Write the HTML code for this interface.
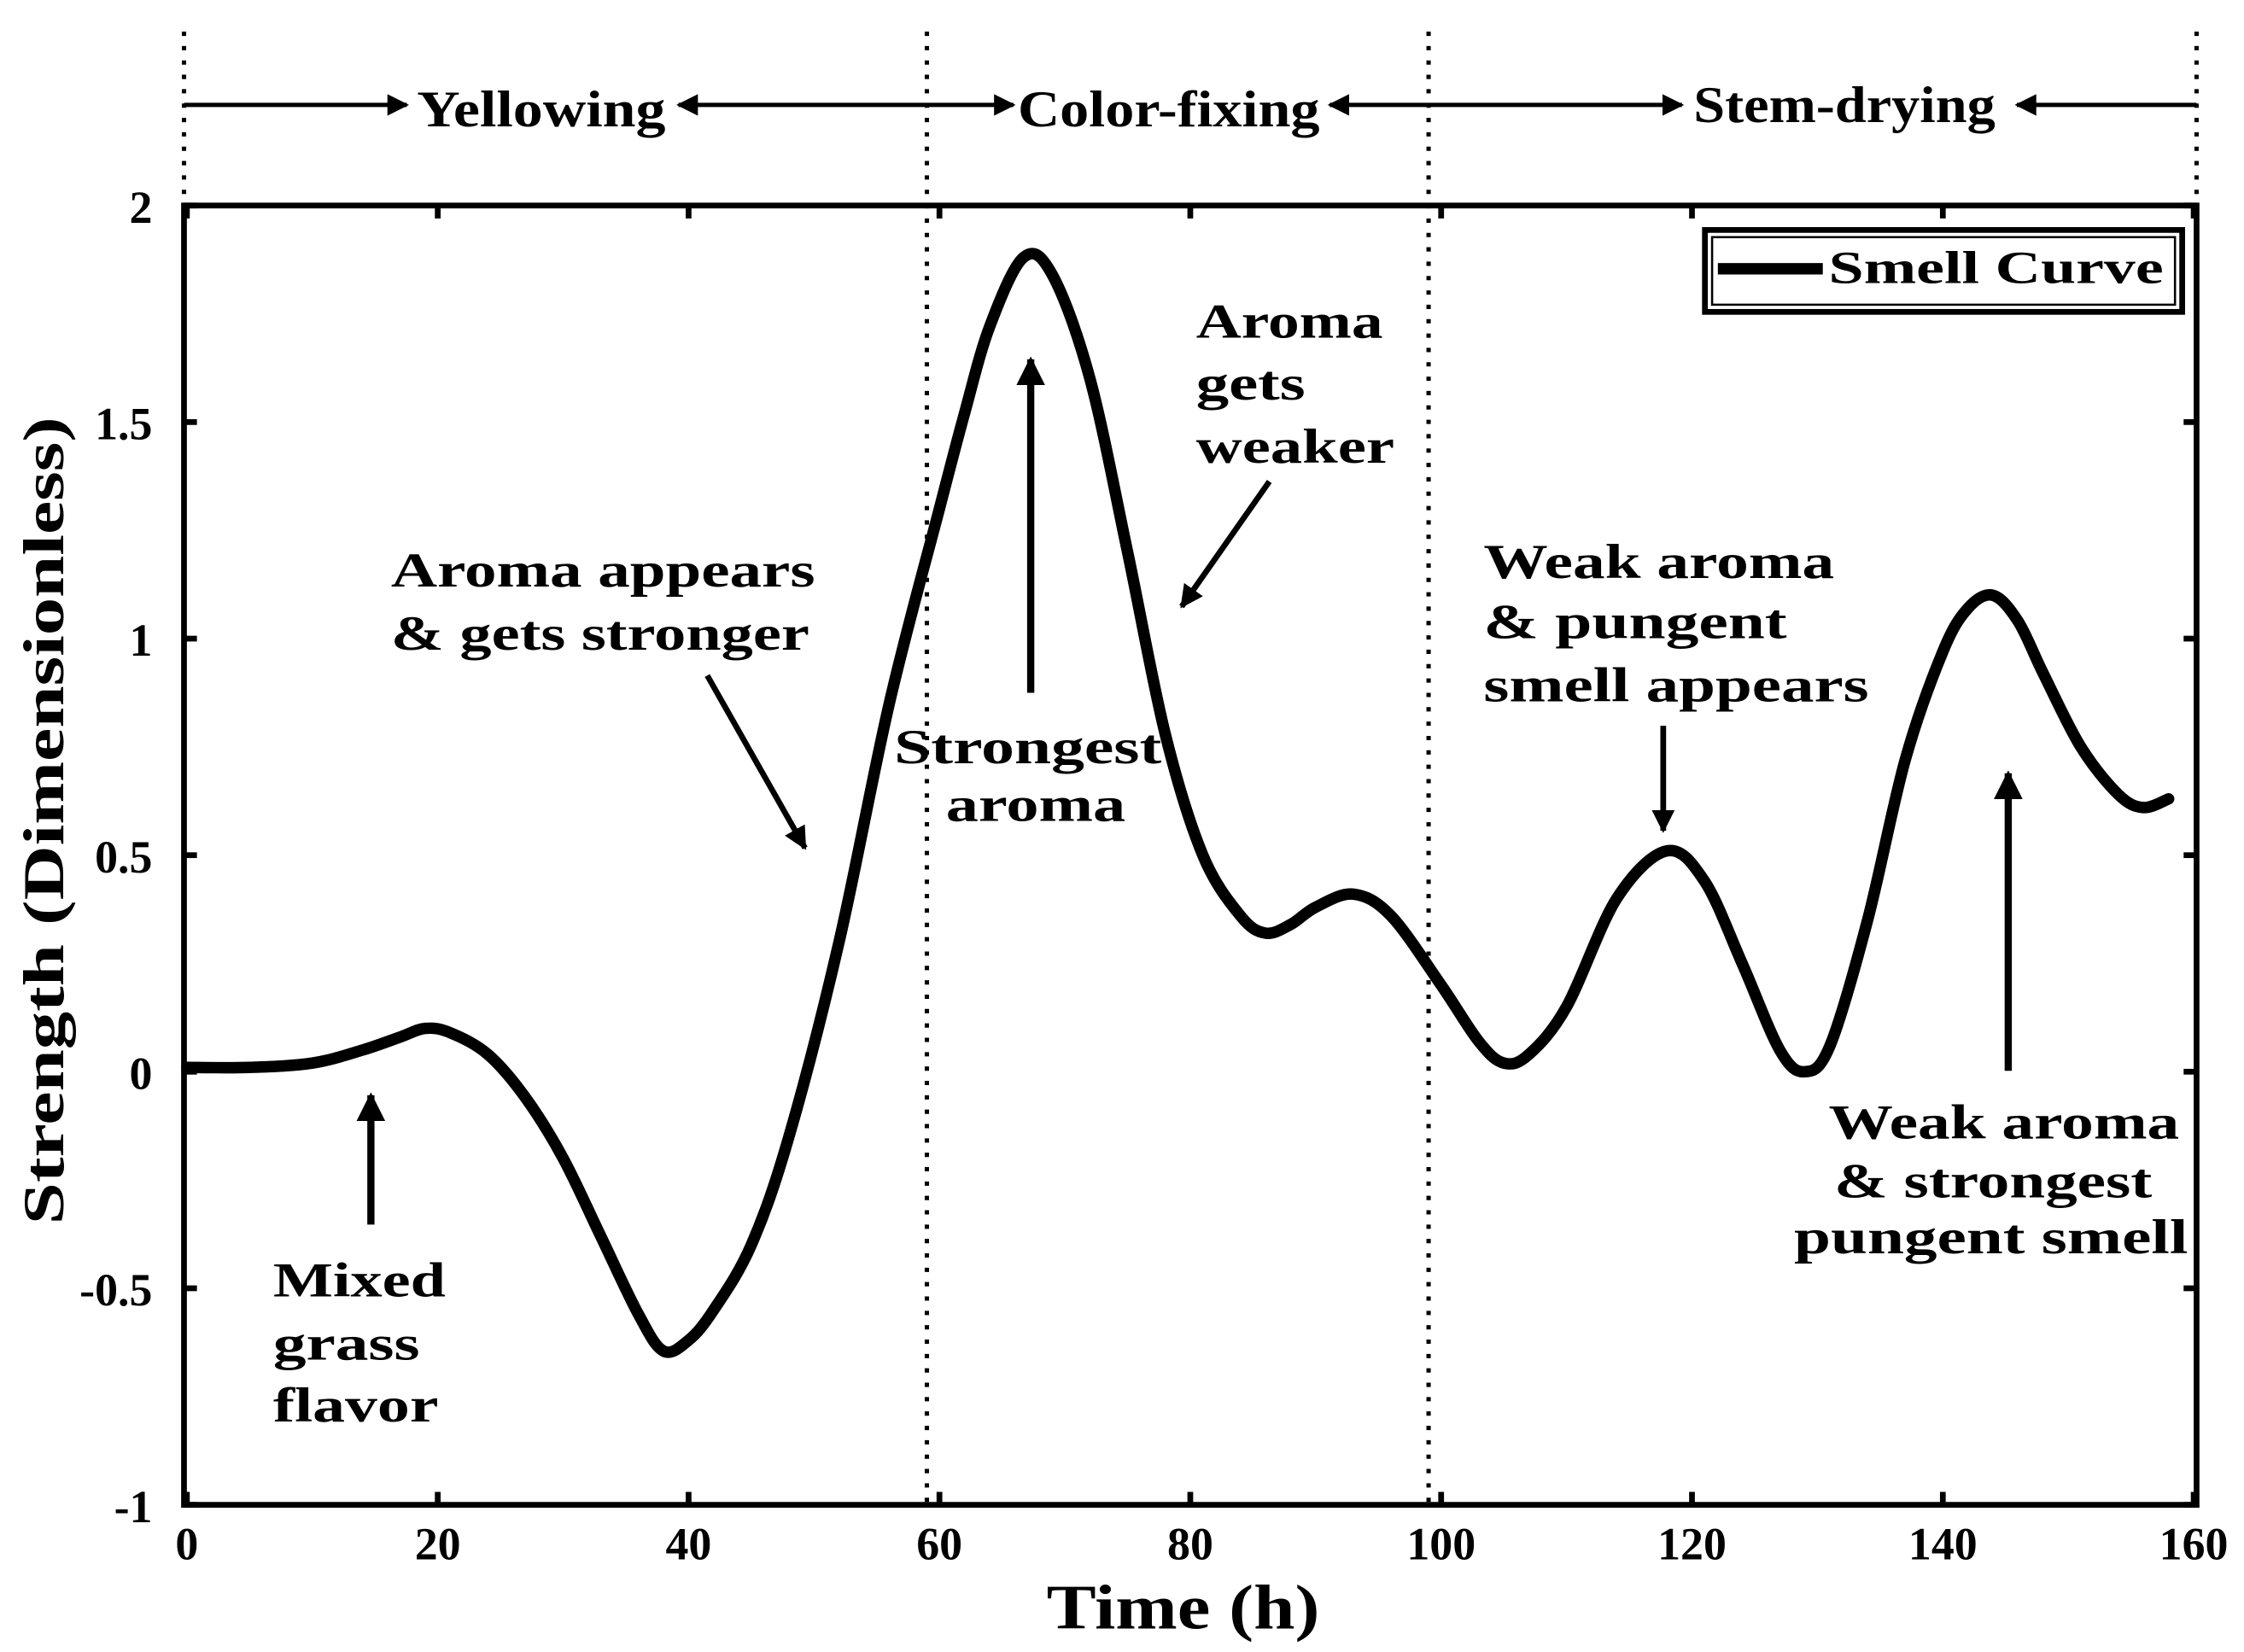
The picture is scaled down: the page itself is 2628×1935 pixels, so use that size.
<!DOCTYPE html>
<html><head><meta charset="utf-8"><style>
html,body{margin:0;padding:0;background:#fff;}
svg{display:block;}
text{font-family:"Liberation Serif",serif;font-weight:bold;fill:#000;}
</style></head><body>
<svg id="chart" width="2628" height="1935" viewBox="0 0 1561 1149.4" preserveAspectRatio="none" xmlns="http://www.w3.org/2000/svg">
<defs>
<marker id="ah" viewBox="0 0 10 10" refX="9" refY="5" markerWidth="4" markerHeight="4" orient="auto-start-reverse"><path d="M0,0 L10,5 L0,10 z" fill="#000"/></marker>
<marker id="ah2" viewBox="0 0 10 10" refX="9" refY="5" markerWidth="6" markerHeight="5" orient="auto-start-reverse"><path d="M0,0 L10,5 L0,10 z" fill="#000"/></marker>
</defs>
<g id="axes"></g>
<g id="series"></g>
<g>
 <line x1="128" y1="73" x2="283" y2="73" stroke="#000" stroke-width="3" marker-end="url(#ah2)"/>
 <text x="290" y="88" font-size="36" textLength="173" lengthAdjust="spacingAndGlyphs">Yellowing</text>
 <line x1="472" y1="73" x2="705" y2="73" stroke="#000" stroke-width="3" marker-start="url(#ah2)" marker-end="url(#ah2)"/>
 <text x="708" y="88" font-size="36" textLength="210" lengthAdjust="spacingAndGlyphs">Color-fixing</text>
 <line x1="925" y1="73" x2="1170" y2="73" stroke="#000" stroke-width="3" marker-start="url(#ah2)" marker-end="url(#ah2)"/>
 <text x="1178" y="85" font-size="36" textLength="210" lengthAdjust="spacingAndGlyphs">Stem-drying</text>
 <line x1="1403" y1="73" x2="1528" y2="73" stroke="#000" stroke-width="3" marker-start="url(#ah2)"/>
</g>
<g>
 <rect x="1186" y="160" width="332" height="57" fill="#fff" stroke="#000" stroke-width="4"/>
 <rect x="1191" y="165" width="322" height="47" fill="none" stroke="#000" stroke-width="1.5"/>
 <line x1="1195" y1="187" x2="1268" y2="187" stroke="#000" stroke-width="8"/>
 <text x="1272" y="197" font-size="32" textLength="233" lengthAdjust="spacingAndGlyphs">Smell Curve</text>
</g>
<g font-size="34">
 <text x="190" y="902" textLength="120" lengthAdjust="spacingAndGlyphs">Mixed</text>
 <text x="190" y="946" textLength="102" lengthAdjust="spacingAndGlyphs">grass</text>
 <text x="190" y="989" textLength="115" lengthAdjust="spacingAndGlyphs">flavor</text>
 <line x1="258" y1="852" x2="258" y2="762" stroke="#000" stroke-width="5" marker-end="url(#ah)"/>
 <text x="272" y="408" textLength="295" lengthAdjust="spacingAndGlyphs">Aroma appears</text>
 <text x="272" y="452" textLength="291" lengthAdjust="spacingAndGlyphs">&amp; gets stronger</text>
 <line x1="492" y1="470" x2="560" y2="590" stroke="#000" stroke-width="4" marker-end="url(#ah)"/>
 <text x="622" y="531" textLength="186" lengthAdjust="spacingAndGlyphs">Strongest</text>
 <text x="658" y="571" textLength="125" lengthAdjust="spacingAndGlyphs">aroma</text>
 <line x1="717" y1="482" x2="717" y2="250" stroke="#000" stroke-width="5" marker-end="url(#ah)"/>
 <text x="832" y="235" textLength="130" lengthAdjust="spacingAndGlyphs">Aroma</text>
 <text x="832" y="278" textLength="76" lengthAdjust="spacingAndGlyphs">gets</text>
 <text x="832" y="322" textLength="138" lengthAdjust="spacingAndGlyphs">weaker</text>
 <line x1="883" y1="335" x2="822" y2="422" stroke="#000" stroke-width="4" marker-end="url(#ah)"/>
 <text x="1032" y="402" textLength="244" lengthAdjust="spacingAndGlyphs">Weak aroma</text>
 <text x="1032" y="444" textLength="211" lengthAdjust="spacingAndGlyphs">&amp;  pungent</text>
 <text x="1032" y="488" textLength="268" lengthAdjust="spacingAndGlyphs">smell appears</text>
 <line x1="1157" y1="505" x2="1157" y2="578" stroke="#000" stroke-width="4" marker-end="url(#ah)"/>
 <text x="1272" y="792" textLength="244" lengthAdjust="spacingAndGlyphs">Weak aroma</text>
 <text x="1276" y="833" textLength="221" lengthAdjust="spacingAndGlyphs">&amp; strongest</text>
 <text x="1248" y="872" textLength="274" lengthAdjust="spacingAndGlyphs">pungent smell</text>
 <line x1="1397" y1="745" x2="1397" y2="538" stroke="#000" stroke-width="5" marker-end="url(#ah)"/>
</g>
<text x="728" y="1133" font-size="44" textLength="190" lengthAdjust="spacingAndGlyphs">Time (h)</text>
<text transform="translate(44,852) rotate(-90)" font-size="40" textLength="562" lengthAdjust="spacingAndGlyphs">Strength (Dimensionless)</text>
</svg>
<script>
const times=[0,5,10,14,17,19,21,24,27,30,33,36,38,40,42,45,48,52,56,60,62,64,66.7,69,72,75,78,81,84,86,88,90,93,96,100,103,105,107,110,114,118,121,124,127,129,131,134,137,140,142,144,146,148,151,154,156,158];
const strength=[0.01,0.01,0.02,0.05,0.08,0.1,0.09,0.04,-0.06,-0.2,-0.38,-0.56,-0.645,-0.62,-0.55,-0.4,-0.15,0.3,0.85,1.3,1.52,1.72,1.88,1.84,1.6,1.2,0.78,0.5,0.36,0.32,0.34,0.38,0.41,0.36,0.2,0.07,0.02,0.04,0.15,0.4,0.51,0.44,0.25,0.05,0.0,0.06,0.35,0.72,0.97,1.07,1.1,1.04,0.92,0.75,0.64,0.61,0.63];
const xTicks=[0,20,40,60,80,100,120,140,160];
const yTicks=[-1,-0.5,0,0.5,1,1.5,2];
const yTickLabels=["-1","-0.5","0","0.5","1","1.5","2"];
const phaseBounds=[0,59,99,160];
const NS="http://www.w3.org/2000/svg";
const L=128,R=1528,T=143,B=1047;
const xs=v=>130+(v/160)*(R-2-130);
const ys=v=>B-(v+1)/3*(B-T);
function mk(tag,attrs,parent){const e=document.createElementNS(NS,tag);for(const k in attrs)e.setAttribute(k,attrs[k]);parent.appendChild(e);return e;}
const ax=document.getElementById('axes');
const frame=mk('rect',{x:L,y:T,width:R-L,height:B-T,fill:'none',stroke:'#000','stroke-width':4},ax);


xTicks.forEach(t=>{const x=xs(t);
 mk('line',{x1:x,y1:B,x2:x,y2:B-9,stroke:'#000','stroke-width':4},ax);
 mk('line',{x1:x,y1:T,x2:x,y2:T+9,stroke:'#000','stroke-width':4},ax);
 const tx=mk('text',{x:x,y:B+38,'font-size':32,'text-anchor':'middle'},ax);tx.textContent=t;
 
 
});
yTicks.forEach((t,i)=>{const y=ys(t);
 mk('line',{x1:L,y1:y,x2:L+9,y2:y,stroke:'#000','stroke-width':4},ax);
 mk('line',{x1:R,y1:y,x2:R-9,y2:y,stroke:'#000','stroke-width':4},ax);
 const tx=mk('text',{x:L-22,y:y+12,'font-size':32,'text-anchor':'end'},ax);tx.textContent=yTickLabels[i];
 
 
});
phaseBounds.forEach(p=>{const x=p===0?L:(p===160?R:xs(p));
 const ln=mk('line',{x1:x,y1:22,x2:x,y2:B,stroke:'#000','stroke-width':3,'stroke-dasharray':'3 7'},ax);
 
 
});
const pts=times.map((t,i)=>[xs(t),ys(strength[i])]);
let d='M'+pts[0][0]+','+pts[0][1];
for(let i=0;i<pts.length-1;i++){const p0=pts[i-1]||pts[i],p1=pts[i],p2=pts[i+1],p3=pts[i+2]||p2;
 d+=' C'+(p1[0]+(p2[0]-p0[0])/6)+','+(p1[1]+(p2[1]-p0[1])/6)+' '+(p2[0]-(p3[0]-p1[0])/6)+','+(p2[1]-(p3[1]-p1[1])/6)+' '+p2[0]+','+p2[1];}
const path=mk('path',{d:d,fill:'none',stroke:'#000','stroke-width':8,'stroke-linejoin':'round','stroke-linecap':'round'},document.getElementById('series'));


</script>
</body></html>
